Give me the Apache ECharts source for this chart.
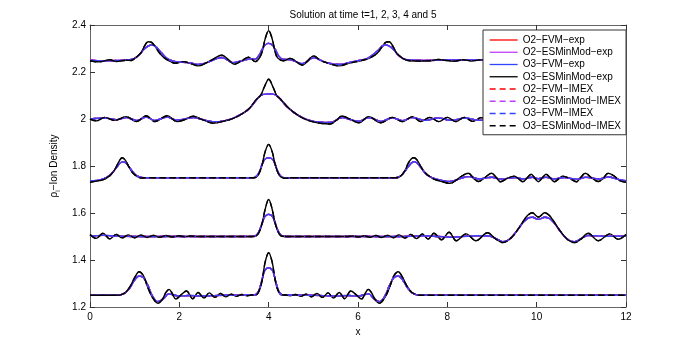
<!DOCTYPE html>
<html>
<head>
<meta charset="utf-8">
<title>Ion density</title>
<script src="https://cdn.jsdelivr.net/npm/echarts@6/dist/echarts.min.js"></script>
<style>
  html, body { margin: 0; padding: 0; background: #fff; }
  #chart { width: 692px; height: 346px; }
</style>
</head>
<body>
<div id="chart"></div>
<script>
// x ticks / y ticks
var xTicks = [0, 2, 4, 6, 8, 10, 12];
var yTicks = [1.2, 1.4, 1.6, 1.8, 2.0, 2.2, 2.4];

var methodNames = ['O2\u2212FVM\u2212exp', 'O2\u2212ESMinMod\u2212exp', 'O3\u2212FVM\u2212exp', 'O3\u2212ESMinMod\u2212exp',
    'O2\u2212FVM\u2212IMEX', 'O2\u2212ESMinMod\u2212IMEX', 'O3\u2212FVM\u2212IMEX', 'O3\u2212ESMinMod\u2212IMEX'];

// t=1  (ESMinMod = black, FVM = blue)
var es1 = [[0,1.25],[0.6,1.25],[0.7,1.253],[0.8,1.263],[0.9,1.288],[1.0,1.325],[1.1,1.35],[1.2,1.332],[1.28,1.29],[1.4,1.24],
    [1.52,1.216],[1.63,1.236],[1.7,1.262],[1.77,1.275],[1.84,1.258],[1.92,1.234],[2.04,1.252],[2.16,1.268],[2.3,1.235],[2.42,1.262],
    [2.55,1.238],[2.67,1.26],[2.8,1.241],[2.92,1.258],[3.04,1.243],[3.16,1.255],[3.28,1.246],[3.4,1.253],[3.52,1.248],[3.62,1.251],
    [3.72,1.252],[3.8,1.275],[3.86,1.32],[3.92,1.39],[4.0,1.431],[4.08,1.39],[4.14,1.32],[4.2,1.275],[4.28,1.252],[4.38,1.251],
    [4.48,1.248],[4.6,1.253],[4.72,1.246],[4.84,1.255],[4.96,1.243],[5.08,1.258],[5.2,1.241],[5.33,1.26],[5.45,1.238],[5.58,1.262],
    [5.7,1.235],[5.84,1.268],[5.96,1.252],[6.08,1.234],[6.16,1.258],[6.23,1.275],[6.3,1.262],[6.37,1.236],[6.48,1.216],[6.6,1.24],
    [6.72,1.29],[6.8,1.332],[6.9,1.35],[7.0,1.325],[7.1,1.288],[7.2,1.263],[7.3,1.253],[7.4,1.25],[12,1.25]];
var fv1 = [[0,1.25],[0.6,1.25],[0.7,1.253],[0.8,1.262],[0.9,1.284],[1.0,1.315],[1.1,1.332],[1.2,1.324],[1.3,1.29],[1.4,1.246],
    [1.52,1.223],[1.64,1.234],[1.76,1.256],[1.88,1.251],[2.0,1.246],[2.2,1.249],[2.5,1.247],[3.0,1.25],[3.7,1.252],[3.78,1.27],
    [3.85,1.315],[3.9,1.35],[3.95,1.363],[4.0,1.367],[4.05,1.363],[4.1,1.35],[4.15,1.315],[4.22,1.27],[4.3,1.252],[5.0,1.25],
    [5.5,1.247],[5.8,1.249],[6.0,1.246],[6.12,1.251],[6.24,1.256],[6.36,1.234],[6.48,1.223],[6.6,1.246],[6.7,1.29],[6.8,1.324],
    [6.9,1.332],[7.0,1.315],[7.1,1.284],[7.2,1.262],[7.3,1.253],[7.4,1.25],[12,1.25]];

// t=2
var es2 = [[0,1.508],[0.14,1.492],[0.29,1.514],[0.44,1.49],[0.59,1.509],[0.72,1.494],[0.86,1.507],[1.0,1.495],[1.14,1.506],[1.28,1.496],
    [1.42,1.505],[1.56,1.497],[1.7,1.504],[1.84,1.498],[1.98,1.503],[2.12,1.499],[2.26,1.502],[2.4,1.5],[3.6,1.5],[3.72,1.502],
    [3.8,1.525],[3.86,1.56],[3.92,1.615],[4.0,1.658],[4.08,1.615],[4.14,1.56],[4.2,1.525],[4.28,1.502],[4.4,1.5],[5.75,1.5],
    [5.88,1.502],[6.01,1.498],[6.14,1.503],[6.27,1.497],[6.4,1.504],[6.53,1.496],[6.66,1.505],[6.79,1.495],[6.92,1.507],[7.05,1.493],
    [7.18,1.509],[7.31,1.491],[7.44,1.511],[7.57,1.489],[7.7,1.514],[7.87,1.486],[8.04,1.518],[8.2,1.482],[8.42,1.511],[8.64,1.482],
    [8.9,1.516],[9.08,1.49],[9.24,1.474],[9.36,1.483],[9.47,1.503],[9.58,1.53],[9.7,1.565],[9.8,1.59],[9.9,1.601],[10.04,1.583],
    [10.18,1.601],[10.28,1.59],[10.38,1.565],[10.5,1.53],[10.61,1.503],[10.72,1.483],[10.85,1.474],[11.0,1.49],[11.15,1.514],[11.38,1.482],
    [11.64,1.511],[11.82,1.488],[12,1.508]];
var fv2 = [[0,1.502],[0.3,1.505],[0.6,1.502],[1.0,1.5],[3.6,1.5],[3.7,1.503],[3.78,1.52],[3.85,1.555],[3.9,1.58],[3.95,1.591],
    [4.0,1.594],[4.05,1.591],[4.1,1.58],[4.15,1.555],[4.22,1.52],[4.3,1.503],[4.4,1.5],[7.0,1.5],[7.5,1.503],[7.8,1.5],
    [8.1,1.497],[8.5,1.502],[8.9,1.503],[9.1,1.49],[9.24,1.478],[9.36,1.485],[9.47,1.503],[9.58,1.53],[9.7,1.56],[9.8,1.577],
    [9.9,1.582],[10.04,1.573],[10.18,1.582],[10.28,1.577],[10.38,1.56],[10.5,1.53],[10.61,1.503],[10.72,1.485],[10.85,1.478],[11.0,1.492],
    [11.15,1.504],[11.5,1.501],[12,1.502]];

// t=3
var es3 = [[0,1.731],[0.15,1.736],[0.3,1.742],[0.44,1.758],[0.52,1.775],[0.59,1.797],[0.66,1.823],[0.72,1.835],[0.79,1.825],[0.86,1.8],
    [0.95,1.772],[1.04,1.757],[1.15,1.749],[1.3,1.75],[3.62,1.75],[3.72,1.752],[3.8,1.775],[3.86,1.81],[3.92,1.86],[4.0,1.892],
    [4.08,1.86],[4.14,1.81],[4.2,1.775],[4.28,1.752],[4.38,1.748],[4.5,1.75],[6.85,1.75],[6.96,1.758],[7.05,1.78],[7.12,1.81],
    [7.19,1.83],[7.25,1.835],[7.32,1.826],[7.4,1.8],[7.48,1.777],[7.56,1.762],[7.7,1.744],[7.88,1.734],[8.06,1.726],[8.2,1.74],
    [8.33,1.758],[8.47,1.769],[8.6,1.745],[8.7,1.734],[8.85,1.752],[8.99,1.769],[9.1,1.75],[9.19,1.733],[9.35,1.748],[9.5,1.757],
    [9.6,1.745],[9.69,1.733],[9.79,1.75],[9.88,1.765],[9.96,1.748],[10.04,1.733],[10.12,1.748],[10.21,1.765],[10.3,1.75],[10.4,1.733],
    [10.49,1.745],[10.58,1.757],[10.73,1.748],[10.89,1.733],[10.98,1.75],[11.09,1.769],[11.23,1.75],[11.38,1.734],[11.48,1.745],[11.6,1.769],
    [11.73,1.758],[11.86,1.738],[12,1.731]];
var fv3 = [[0,1.737],[0.15,1.738],[0.3,1.745],[0.44,1.76],[0.52,1.775],[0.6,1.795],[0.67,1.812],[0.74,1.818],[0.81,1.812],[0.88,1.795],
    [0.96,1.775],[1.04,1.76],[1.15,1.751],[1.3,1.75],[3.6,1.75],[3.7,1.753],[3.78,1.77],[3.85,1.805],[3.9,1.825],[3.95,1.833],
    [4.0,1.835],[4.05,1.833],[4.1,1.825],[4.15,1.805],[4.22,1.77],[4.3,1.753],[4.4,1.75],[6.85,1.75],[6.95,1.757],[7.04,1.775],
    [7.12,1.795],[7.19,1.812],[7.26,1.818],[7.33,1.812],[7.4,1.795],[7.48,1.775],[7.56,1.76],[7.7,1.747],[7.9,1.738],[8.08,1.734],
    [8.3,1.748],[8.5,1.755],[8.7,1.745],[9.0,1.752],[9.2,1.744],[9.5,1.751],[9.7,1.745],[9.9,1.752],[10.04,1.746],[10.2,1.752],
    [10.4,1.745],[10.6,1.751],[10.9,1.744],[11.1,1.752],[11.4,1.745],[11.6,1.753],[11.85,1.742],[12,1.737]];

// t=4
var es4 = [[0,2.0],[0.14,1.992],[0.33,2.007],[0.55,1.994],[0.81,2.01],[1.04,1.989],[1.26,2.014],[1.45,1.989],[1.73,2.014],[1.94,1.989],
    [2.12,1.997],[2.31,2.012],[2.53,1.996],[2.76,1.982],[2.98,1.99],[3.21,2.003],[3.43,2.025],[3.58,2.048],[3.73,2.085],[3.82,2.1],
    [3.9,2.135],[4.0,2.169],[4.1,2.135],[4.18,2.1],[4.27,2.084],[4.42,2.052],[4.57,2.027],[4.71,2.01],[4.9,1.993],[5.16,1.982],
    [5.38,1.979],[5.52,1.995],[5.64,2.013],[5.83,1.998],[6.02,1.984],[6.24,2.01],[6.51,1.984],[6.77,2.007],[6.99,1.989],[7.22,2.01],
    [7.4,1.989],[7.61,2.007],[7.81,1.989],[8.0,2.007],[8.19,1.989],[8.38,2.007],[8.57,1.99],[8.76,2.006],[9.0,1.99],[9.3,2.006],
    [9.6,1.991],[9.9,2.005],[10.2,1.992],[10.5,2.005],[10.8,1.992],[11.1,2.005],[11.4,1.993],[11.7,2.004],[12,2.0]];
var fv4 = [[0,2.0],[0.33,2.004],[0.6,1.997],[0.81,2.006],[1.04,1.994],[1.26,2.008],[1.45,1.994],[1.73,2.008],[1.94,1.995],[2.31,2.006],
    [2.6,1.994],[2.8,1.988],[3.0,1.992],[3.21,2.004],[3.43,2.025],[3.58,2.047],[3.7,2.075],[3.8,2.097],[3.88,2.105],[4.0,2.107],
    [4.12,2.105],[4.2,2.097],[4.3,2.075],[4.42,2.05],[4.57,2.027],[4.71,2.01],[4.9,1.995],[5.16,1.986],[5.38,1.985],[5.64,2.006],
    [6.02,1.99],[6.24,2.006],[6.51,1.99],[6.77,2.005],[7.0,1.993],[7.22,2.006],[7.5,1.994],[7.8,2.004],[8.1,1.994],[8.4,2.004],
    [8.7,1.995],[9.2,2.0],[12,2.0]];

// t=5
var es5 = [[0,2.248],[0.2,2.243],[0.44,2.252],[0.59,2.245],[0.81,2.25],[0.92,2.249],[1.0,2.258],[1.08,2.27],[1.15,2.285],[1.22,2.31],
    [1.3,2.329],[1.38,2.326],[1.47,2.305],[1.56,2.28],[1.68,2.258],[1.8,2.245],[1.9,2.237],[2.09,2.244],[2.24,2.237],[2.42,2.226],
    [2.61,2.24],[2.76,2.255],[2.95,2.272],[3.1,2.252],[3.23,2.233],[3.43,2.252],[3.55,2.263],[3.7,2.244],[3.8,2.262],[3.86,2.29],
    [3.92,2.34],[4.0,2.376],[4.08,2.34],[4.14,2.29],[4.2,2.26],[4.33,2.248],[4.48,2.258],[4.75,2.23],[5.01,2.268],[5.17,2.248],
    [5.34,2.237],[5.57,2.226],[5.79,2.237],[5.98,2.244],[6.1,2.25],[6.2,2.255],[6.32,2.265],[6.43,2.28],[6.53,2.305],[6.62,2.326],
    [6.7,2.329],[6.78,2.31],[6.85,2.285],[6.92,2.27],[7.0,2.258],[7.1,2.25],[7.25,2.247],[7.6,2.248],[7.8,2.253],[7.95,2.25],
    [8.15,2.246],[8.35,2.252],[8.55,2.247],[8.75,2.252],[9.0,2.246],[9.3,2.252],[9.6,2.246],[9.9,2.252],[10.2,2.246],[10.5,2.252],
    [10.8,2.247],[11.1,2.252],[11.4,2.247],[11.7,2.254],[12,2.25]];
var fv5 = [[0,2.25],[0.3,2.247],[0.6,2.249],[0.9,2.252],[1.0,2.258],[1.1,2.272],[1.2,2.295],[1.3,2.31],[1.38,2.315],[1.46,2.31],
    [1.56,2.29],[1.68,2.265],[1.8,2.25],[1.95,2.243],[2.2,2.24],[2.42,2.232],[2.65,2.242],[2.95,2.262],[3.2,2.24],[3.45,2.25],
    [3.6,2.256],[3.7,2.255],[3.78,2.27],[3.85,2.295],[3.92,2.315],[4.0,2.322],[4.08,2.315],[4.15,2.295],[4.22,2.27],[4.3,2.255],
    [4.5,2.252],[4.75,2.235],[5.0,2.26],[5.3,2.24],[5.6,2.232],[5.8,2.24],[6.05,2.25],[6.2,2.257],[6.32,2.272],[6.44,2.29],
    [6.54,2.31],[6.62,2.315],[6.7,2.31],[6.8,2.295],[6.9,2.272],[7.0,2.258],[7.1,2.252],[7.5,2.249],[8.0,2.251],[12,2.25]];

var esRuns = [es1, es2, es3, es4, es5];
var fvRuns = [fv1, fv2, fv3, fv4, fv5];

var font = '"Liberation Sans", Arial, Helvetica, sans-serif';
var colors = ['#ff0000', '#bf3fff', '#3344ff', '#000000', '#ff0000', '#bf3fff', '#3344ff', '#000000'];
// which runs each legend entry draws from (O2 curves sit under the O3 FVM ones)
var runsFor = [fvRuns, fvRuns, fvRuns, esRuns, fvRuns, fvRuns, fvRuns, esRuns];

var series = [];
methodNames.forEach(function (name, i) {
    runsFor[i].forEach(function (run) {
        series.push({
            name: name,
            type: 'line',
            data: run,
            smooth: 0.35,
            symbol: 'none',
            color: colors[i],
            lineStyle: { color: colors[i], width: 1.4, type: i < 4 ? 'solid' : [6, 4] },
            silent: true
        });
    });
});

var boxAxisLine = { show: true, onZero: false, lineStyle: { color: '#666', width: 1 } };
var labelStyle = { color: '#000', fontSize: 10, fontFamily: font };

var chart = echarts.init(document.getElementById('chart'));
chart.setOption({
    animation: false,
    backgroundColor: '#fff',
    title: {
        text: 'Solution at time t=1, 2, 3, 4 and 5',
        left: 358,
        top: 5,
        textAlign: 'center',
        textStyle: { fontSize: 10, fontWeight: 'normal', color: '#000', fontFamily: font }
    },
    legend: {
        data: methodNames,
        orient: 'vertical',
        left: 483,
        top: 30,
        padding: [4, 5, 3, 6],
        itemWidth: 28,
        itemHeight: 10,
        itemGap: 0.25,
        itemStyle: { opacity: 0, borderWidth: 0 },
        lineStyle: { width: 1.3 },
        backgroundColor: '#fff',
        borderColor: '#333',
        borderWidth: 1,
        borderRadius: 0,
        selectedMode: false,
        textStyle: { fontSize: 10, lineHeight: 12, color: '#000', fontFamily: font }
    },
    grid: { left: 90, right: 66, top: 25, bottom: 39 },
    xAxis: [{
        type: 'value', min: xTicks[0], max: xTicks[xTicks.length - 1], interval: xTicks[1] - xTicks[0],
        position: 'bottom',
        name: 'x', nameLocation: 'middle', nameGap: 16,
        nameTextStyle: { fontSize: 10, color: '#000', fontFamily: font },
        axisLine: boxAxisLine,
        axisTick: { inside: true, length: 5, lineStyle: { color: '#333' } },
        axisLabel: Object.assign({ margin: 5 }, labelStyle),
        splitLine: { show: false }
    }, {
        type: 'value', min: xTicks[0], max: xTicks[xTicks.length - 1], interval: xTicks[1] - xTicks[0],
        position: 'top',
        axisLine: boxAxisLine,
        axisTick: { inside: true, length: 5, lineStyle: { color: '#333' } },
        axisLabel: { show: false },
        splitLine: { show: false }
    }],
    yAxis: [{
        type: 'value', min: yTicks[0], max: yTicks[yTicks.length - 1], interval: 0.2,
        position: 'left',
        name: '{r|\u03c1}{s|i}{r|\u2212Ion Density}', nameLocation: 'middle', nameGap: 25,
        nameTextStyle: {
            color: '#000', fontFamily: font,
            rich: {
                r: { fontSize: 10, lineHeight: 14, verticalAlign: 'middle', fontFamily: font, color: '#000' },
                s: { fontSize: 7, lineHeight: 8, verticalAlign: 'bottom', fontFamily: font, color: '#000' }
            }
        },
        axisLine: boxAxisLine,
        axisTick: { inside: true, length: 5, lineStyle: { color: '#333' } },
        axisLabel: Object.assign({ margin: 4, formatter: function (v) { return String(+v.toFixed(1)); } }, labelStyle),
        splitLine: { show: false }
    }, {
        type: 'value', min: yTicks[0], max: yTicks[yTicks.length - 1], interval: 0.2,
        position: 'right',
        axisLine: boxAxisLine,
        axisTick: { inside: true, length: 5, lineStyle: { color: '#333' } },
        axisLabel: { show: false },
        splitLine: { show: false }
    }],
    series: series
});
</script>
</body>
</html>
